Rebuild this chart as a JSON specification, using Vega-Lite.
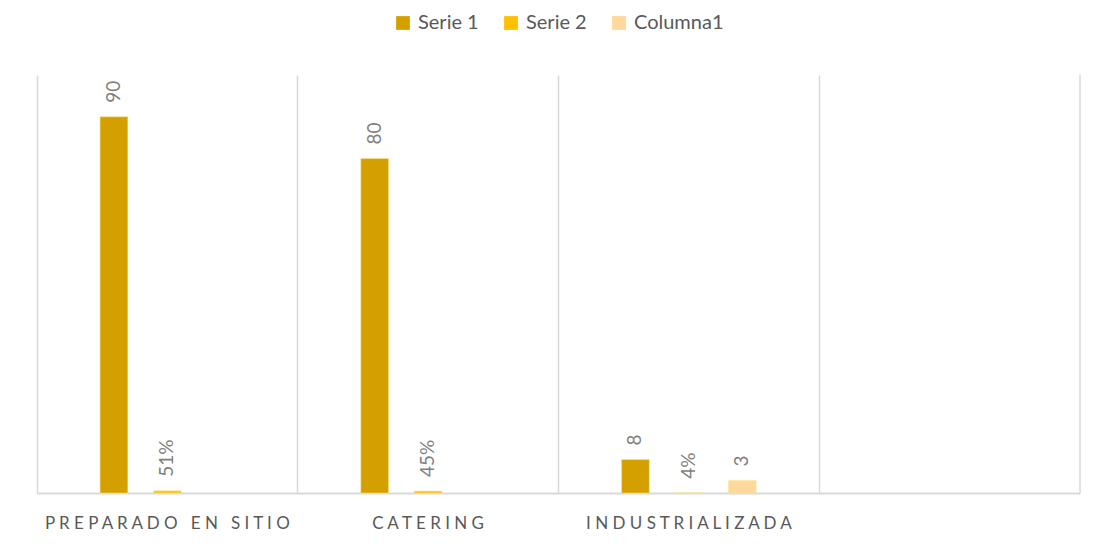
{
  "$schema": "https://vega.github.io/schema/vega-lite/v6.json",
  "width": 1043,
  "height": 418,
  "autosize": {"type": "none"},
  "padding": {"left": 37, "top": 75, "right": 17, "bottom": 53},
  "background": "white",
  "config": {
    "view": {"stroke": null},
    "font": "Lato",
    "legend": {"layout": {"top": {"anchor": "middle"}}}
  },
  "datasets": {
    "main": [
      {"categoria": "PREPARADO EN SITIO", "serie": "Serie 1", "valor": 90},
      {"categoria": "PREPARADO EN SITIO", "serie": "Serie 2", "valor": 0.51},
      {"categoria": "CATERING", "serie": "Serie 1", "valor": 80},
      {"categoria": "CATERING", "serie": "Serie 2", "valor": 0.45},
      {"categoria": "INDUSTRIALIZADA", "serie": "Serie 1", "valor": 8},
      {"categoria": "INDUSTRIALIZADA", "serie": "Serie 2", "valor": 0.04},
      {"categoria": "INDUSTRIALIZADA", "serie": "Columna1", "valor": 3}
    ],
    "edge": [{"categoria": ""}]
  },
  "layer": [
    {
      "data": {"name": "main"},
      "mark": {"type": "bar", "stroke": "#FFE699", "strokeWidth": 0.5},
      "encoding": {
        "x": {
          "field": "categoria", "type": "nominal",
          "scale": {"domain": ["PREPARADO EN SITIO", "CATERING", "INDUSTRIALIZADA", ""], "paddingInner": 0, "paddingOuter": 0},
          "sort": null,
          "axis": {
            "title": null, "labelAngle": 0, "ticks": false, "labelLimit": 0,
            "grid": true, "gridColor": "#D9D9D9", "gridWidth": 1.5, "bandPosition": 0,
            "domainColor": "#D9D9D9", "domainWidth": 2,
            "labelFont": "Lato", "labelFontSize": 17, "labelColor": "#595959", "labelPadding": 22,
            "labelExpr": "join(split(datum.label, ''), '\u00a0')"
          }
        },
        "xOffset": {
          "field": "serie", "type": "nominal",
          "scale": {"domain": ["_", "Serie 1", "Serie 2", "Columna1", "__"], "paddingInner": 0.48, "paddingOuter": 0.18}
        },
        "y": {"field": "valor", "type": "quantitative", "scale": {"domain": [0, 100]}, "axis": null},
        "color": {
          "field": "serie", "type": "nominal",
          "scale": {"domain": ["Serie 1", "Serie 2", "Columna1"], "range": ["#D4A000", "#FFC000", "#FFD89B"]},
          "legend": {
            "title": null, "orient": "top", "direction": "horizontal", "offset": 42,
            "symbolType": "square", "symbolSize": 190, "symbolStrokeWidth": 0,
            "labelFontSize": 20, "labelColor": "#595959", "labelFont": "Lato",
            "columnPadding": 22, "labelOffset": 5
          }
        }
      }
    },
    {
      "data": {"name": "main"},
      "transform": [{"filter": "datum.serie !== 'Serie 2'"}],
      "mark": {"type": "text", "angle": 270, "align": "left", "baseline": "middle", "dx": 14, "fontSize": 19, "color": "#7F7F7F", "font": "Lato"},
      "encoding": {
        "x": {"field": "categoria", "type": "nominal", "sort": null},
        "xOffset": {"field": "serie", "type": "nominal"},
        "y": {"field": "valor", "type": "quantitative"},
        "text": {"field": "valor", "type": "quantitative", "format": "d"}
      }
    },
    {
      "data": {"name": "main"},
      "transform": [{"filter": "datum.serie === 'Serie 2'"}],
      "mark": {"type": "text", "angle": 270, "align": "left", "baseline": "middle", "dx": 14, "fontSize": 19, "color": "#7F7F7F", "font": "Lato"},
      "encoding": {
        "x": {"field": "categoria", "type": "nominal", "sort": null},
        "xOffset": {"field": "serie", "type": "nominal"},
        "y": {"field": "valor", "type": "quantitative"},
        "text": {"field": "valor", "type": "quantitative", "format": ".0%"}
      }
    },
    {
      "data": {"name": "edge"},
      "mark": {"type": "rule", "color": "#D9D9D9", "strokeWidth": 1.5},
      "encoding": {
        "x": {"field": "categoria", "type": "nominal", "bandPosition": 1}
      }
    }
  ]
}
